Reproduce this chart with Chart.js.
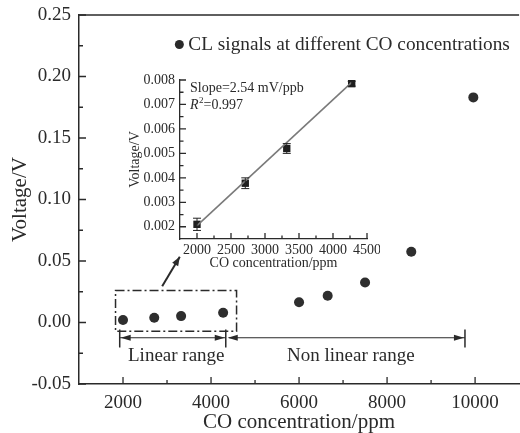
<!DOCTYPE html>
<html>
<head>
<meta charset="utf-8">
<script src="https://cdn.jsdelivr.net/npm/chart.js@4.4.0/dist/chart.umd.min.js"></script>
<style>
  html, body { margin: 0; padding: 0; background: #fff; overflow: hidden; width: 520px; height: 433px; }
  #main { position: absolute; left: 0; top: 0; }
  #inset { position: absolute; left: 110px; top: 70px; }
</style>
</head>
<body>
<canvas id="main" width="525" height="433"></canvas>
<canvas id="inset" width="270" height="205"></canvas>
<script>
// Main chart data
const concX = [2000, 2710, 3320, 4275, 6000, 6650, 7500, 8550, 9960];
const signalY = [0.0021, 0.0038, 0.0052, 0.0079, 0.0165, 0.0217, 0.0325, 0.0575, 0.183];
const xTicks = [2000, 4000, 6000, 8000, 10000];
const yTicks = [-0.05, 0, 0.05, 0.10, 0.15, 0.20, 0.25];

// Inset (linear range) data
const insetX = [2000, 2710, 3320, 4275];
const insetY = [0.0021, 0.00378, 0.0052, 0.00785];
const insetErr = [0.00025, 0.00022, 0.0002, 0.0001];
const fitX = [2000, 4275];
const fitY = [0.00205, 0.0079];
const insetXTicks = [2000, 2500, 3000, 3500, 4000, 4500];
const insetYTicks = [0.002, 0.003, 0.004, 0.005, 0.006, 0.007, 0.008];

const SERIF = "'Liberation Serif', 'Times New Roman', serif";
const INK = '#2a2a2a';

Chart.defaults.font.family = SERIF;
Chart.defaults.color = INK;

const midpoints = arr => arr.slice(1).map((v, i) => (v + arr[i]) / 2);

// fixed box sizes, no label overhang padding
const fixX = h => s => { s.height = h; s.paddingLeft = 0; s.paddingRight = 0; };
const fixY = w => s => { s.width = w; s.paddingTop = 0; s.paddingBottom = 0; };

// inward tick marks (major + minor) for both charts
function drawInTicks(ctx, scale, majors, minors, majLen, minLen) {
  const area = scale.chart.chartArea;
  ctx.save();
  ctx.strokeStyle = INK;
  ctx.lineWidth = 1.3;
  ctx.beginPath();
  const mark = (v, len) => {
    const p = scale.getPixelForValue(v);
    if (scale.isHorizontal()) {
      ctx.moveTo(p, area.bottom); ctx.lineTo(p, area.bottom - len);
    } else {
      ctx.moveTo(area.left, p); ctx.lineTo(area.left + len, p);
    }
  };
  majors.forEach(v => mark(v, majLen));
  minors.forEach(v => mark(v, minLen));
  ctx.stroke();
  ctx.restore();
}

function arrowHead(ctx, x, y, dx, dy, len, half) {
  const n = Math.hypot(dx, dy); const ux = dx / n, uy = dy / n;
  ctx.beginPath();
  ctx.moveTo(x, y);
  ctx.lineTo(x - ux * len - uy * half, y - uy * len + ux * half);
  ctx.lineTo(x - ux * len + uy * half, y - uy * len - ux * half);
  ctx.closePath();
  ctx.fill();
}

const mainDecor = {
  id: 'mainDecor',
  afterDraw(chart) {
    const {ctx, chartArea: a, scales: {x, y}} = chart;
    drawInTicks(ctx, x, xTicks, midpoints(xTicks), 7, 4);
    drawInTicks(ctx, y, yTicks, midpoints(yTicks), 7, 4);
    ctx.save();
    ctx.strokeStyle = INK; ctx.fillStyle = INK;
    // top frame line
    ctx.lineWidth = 1.5;
    ctx.beginPath(); ctx.moveTo(a.left, a.top); ctx.lineTo(a.right, a.top); ctx.stroke();

    // legend
    const lx = x.getPixelForValue(3280), ly = y.getPixelForValue(0.226);
    ctx.beginPath(); ctx.arc(lx, ly, 4.5, 0, Math.PI * 2); ctx.fill();
    ctx.font = '19.3px ' + SERIF; ctx.textBaseline = 'middle'; ctx.textAlign = 'left';
    ctx.fillText('CL signals at different CO concentrations', lx + 9, ly);

    // dash-dot box around the linear range
    const bx0 = x.getPixelForValue(1830), bx1 = x.getPixelForValue(4580);
    const by0 = y.getPixelForValue(0.026), by1 = y.getPixelForValue(-0.0071);
    ctx.lineWidth = 1.5;
    ctx.setLineDash([9, 3, 2, 3]);
    ctx.strokeRect(bx0, by0, bx1 - bx0, by1 - by0);
    ctx.setLineDash([]);

    // pointer arrow to inset
    const ax0 = x.getPixelForValue(2890), ay0 = y.getPixelForValue(0.0295);
    const ax1 = x.getPixelForValue(3290), ay1 = y.getPixelForValue(0.0535);
    ctx.lineWidth = 2;
    ctx.beginPath(); ctx.moveTo(ax0, ay0); ctx.lineTo(ax1, ay1); ctx.stroke();
    arrowHead(ctx, ax1, ay1, ax1 - ax0, ay1 - ay0, 9, 3.5);

    // range markers
    const ry = y.getPixelForValue(-0.0124);
    const rt = y.getPixelForValue(-0.0057), rb = y.getPixelForValue(-0.0203);
    const r0 = x.getPixelForValue(1925), r1 = x.getPixelForValue(4335), r2 = x.getPixelForValue(9770);
    ctx.lineWidth = 1.5;
    ctx.beginPath();
    [r0, r1, r2].forEach(px => { ctx.moveTo(px, rt); ctx.lineTo(px, rb); });
    ctx.stroke();
    ctx.lineWidth = 1.2;
    ctx.beginPath();
    ctx.moveTo(r0, ry); ctx.lineTo(r1, ry);
    ctx.moveTo(r1 + 3, ry); ctx.lineTo(r2, ry);
    ctx.stroke();
    arrowHead(ctx, r0 + 1, ry, -1, 0, 10, 3);
    arrowHead(ctx, r1 - 1, ry, 1, 0, 10, 3);
    arrowHead(ctx, r1 + 2, ry, -1, 0, 10, 3);
    arrowHead(ctx, r2 - 1, ry, 1, 0, 10, 3);

    ctx.font = '19px ' + SERIF; ctx.textAlign = 'center'; ctx.textBaseline = 'middle';
    const ty = y.getPixelForValue(-0.0274);
    ctx.fillText('Linear range', x.getPixelForValue(3210), ty);
    ctx.fillText('Non linear range', x.getPixelForValue(7178), ty);
    ctx.restore();
  }
};

new Chart(document.getElementById('main'), {
  type: 'scatter',
  data: {
    datasets: [
      {
        label: 'CL signals at different CO concentrations',
        data: concX.map((v, i) => ({x: v, y: signalY[i]})),
        pointStyle: 'circle',
        pointRadius: 5,
        backgroundColor: '#2e2e2e',
        borderColor: '#2e2e2e',
        borderWidth: 0
      },
      {
        label: 'error',
        data: concX.map((v, i) => ({x: v, y: signalY[i]})),
        pointStyle: 'cross',
        pointRadius: 4.5,
        borderColor: '#9a9a9a',
        borderWidth: 1.4
      }
    ]
  },
  options: {
    responsive: false,
    animation: false,
    devicePixelRatio: 1,
    layout: { padding: { top: 15, right: 2, left: 0, bottom: 0 } },
    plugins: { legend: { display: false }, tooltip: { enabled: false } },
    scales: {
      x: {
        type: 'linear', min: 1000, max: 11000,
        afterFit: fixX(49),
        afterBuildTicks: s => { s.ticks = xTicks.map(v => ({value: v})); },
        grid: { display: false, drawTicks: false },
        border: { display: true, color: INK, width: 1.5 },
        ticks: { padding: 8, font: { size: 19 }, color: INK, callback: v => String(v) },
        title: { display: true, text: 'CO concentration/ppm', font: { size: 21, lineHeight: 1 }, color: INK, padding: { top: 0, bottom: 0 } }
      },
      y: {
        type: 'linear', min: -0.05, max: 0.25,
        afterFit: fixY(79),
        afterBuildTicks: s => { s.ticks = yTicks.map(v => ({value: v})); },
        grid: { display: false, drawTicks: false },
        border: { display: true, color: INK, width: 1.5 },
        ticks: { padding: 8, font: { size: 19 }, color: INK, callback: v => v.toFixed(2) },
        title: { display: true, text: 'Voltage/V', font: { size: 21, lineHeight: 1 }, color: INK, padding: { top: 10, bottom: 0 } }
      }
    }
  },
  plugins: [mainDecor]
});

const insetDecor = {
  id: 'insetDecor',
  afterDatasetsDraw(chart) {
    const {ctx, scales: {x, y}} = chart;
    ctx.save();
    ctx.strokeStyle = '#222'; ctx.lineWidth = 1;
    insetX.forEach((v, i) => {
      const px = x.getPixelForValue(v);
      const top = y.getPixelForValue(insetY[i] + insetErr[i]);
      const bot = y.getPixelForValue(insetY[i] - insetErr[i]);
      ctx.beginPath();
      ctx.moveTo(px, top); ctx.lineTo(px, bot);
      ctx.moveTo(px - 4, top); ctx.lineTo(px + 4, top);
      ctx.moveTo(px - 4, bot); ctx.lineTo(px + 4, bot);
      ctx.stroke();
    });
    ctx.restore();
  },
  afterDraw(chart) {
    const {ctx, scales: {x, y}} = chart;
    drawInTicks(ctx, x, insetXTicks, midpoints(insetXTicks), 6, 3.5);
    drawInTicks(ctx, y, insetYTicks, midpoints(insetYTicks), 6, 3.5);
    ctx.save();
    ctx.fillStyle = INK;
    ctx.textBaseline = 'middle'; ctx.textAlign = 'left';
    const tx = x.getPixelForValue(1898);
    ctx.font = '14px ' + SERIF;
    ctx.fillText('Slope=2.54 mV/ppb', tx, y.getPixelForValue(0.00767));
    const ry = y.getPixelForValue(0.00697);
    ctx.font = 'italic 14px ' + SERIF;
    ctx.fillText('R', tx, ry);
    let cx = tx + ctx.measureText('R').width;
    ctx.font = '9px ' + SERIF;
    ctx.fillText('2', cx + 0.5, ry - 5);
    cx += ctx.measureText('2').width + 0.5;
    ctx.font = '14px ' + SERIF;
    ctx.fillText('=0.997', cx, ry);
    ctx.restore();
  }
};

new Chart(document.getElementById('inset'), {
  type: 'scatter',
  data: {
    datasets: [
      {
        type: 'line',
        label: 'fit',
        data: fitX.map((v, i) => ({x: v, y: fitY[i]})),
        borderColor: '#7a7a7a',
        borderWidth: 1.6,
        pointRadius: 0,
        fill: false
      },
      {
        label: 'linear',
        data: insetX.map((v, i) => ({x: v, y: insetY[i]})),
        pointStyle: 'rect',
        pointRadius: 5.2,
        backgroundColor: '#1e1e1e',
        borderColor: '#1e1e1e',
        borderWidth: 0
      }
    ]
  },
  options: {
    responsive: false,
    animation: false,
    devicePixelRatio: 1,
    layout: { padding: { top: 10, right: 13, left: 0, bottom: 0 } },
    plugins: { legend: { display: false }, tooltip: { enabled: false } },
    scales: {
      x: {
        type: 'linear', min: 1750, max: 4500,
        afterFit: fixX(36),
        afterBuildTicks: s => { s.ticks = insetXTicks.map(v => ({value: v})); },
        grid: { display: false, drawTicks: false },
        border: { display: true, color: INK, width: 1.3 },
        ticks: { padding: 3, font: { size: 14 }, color: INK, callback: v => String(v) },
        title: { display: true, text: 'CO concentration/ppm', font: { size: 14, lineHeight: 1 }, color: INK, padding: { top: 0, bottom: 5 } }
      },
      y: {
        type: 'linear', min: 0.0015, max: 0.008,
        afterFit: fixY(70),
        afterBuildTicks: s => { s.ticks = insetYTicks.map(v => ({value: v})); },
        grid: { display: false, drawTicks: false },
        border: { display: true, color: INK, width: 1.3 },
        ticks: { padding: 5, font: { size: 14 }, color: INK, callback: v => v.toFixed(3) },
        title: { display: true, text: 'Voltage/V', font: { size: 14, lineHeight: 1 }, color: INK, padding: { top: 18, bottom: 0 } }
      }
    }
  },
  plugins: [insetDecor]
});
</script>
</body>
</html>
